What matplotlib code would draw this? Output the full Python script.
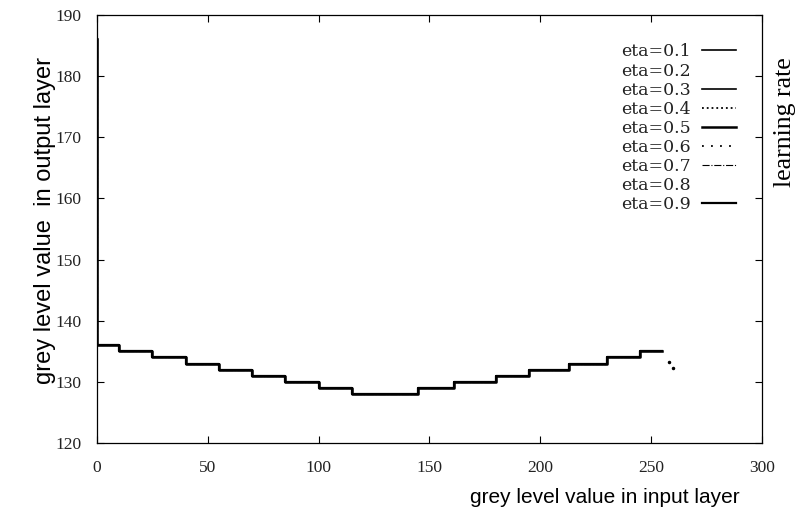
import matplotlib.pyplot as plt

# grey level staircase (x = input grey level, y = output grey level)
grey_in = [0, 0, 10, 25, 40, 55, 70, 85, 100, 115, 145, 161, 180, 195, 213, 230, 245, 255]
grey_out = [186, 136, 135, 134, 133, 132, 131, 130, 129, 128, 129, 130, 131, 132, 133, 134, 135, 135]

# a couple of stray points just past the end of the curve
tail_x = [258, 260]
tail_y = [133.3, 132.2]

etas = ["0.1", "0.2", "0.3", "0.4", "0.5", "0.6", "0.7", "0.8", "0.9"]
styles = ["-", "none", "-", ":", "-", (0, (1, 4)), "-.", "none", "-"]
widths = [1.2, 1.0, 1.2, 1.3, 1.8, 1.3, 0.8, 1.0, 1.6]

serif = ["Liberation Serif", "DejaVu Serif"]
sans = ["Liberation Sans", "DejaVu Sans"]

fig = plt.figure(figsize=(8.02, 5.19), dpi=100)
ax = fig.add_axes([0.121, 0.1464, 0.829, 0.8247])

for eta, ls, lw in zip(etas, styles, widths):
    ax.step(grey_in, grey_out, where="post", color="black", linestyle=ls,
            linewidth=lw, label="eta=" + eta)
ax.plot(tail_x, tail_y, "o", color="black", markersize=1.5)

ax.set_xlim(0, 300)
ax.set_ylim(120, 190)
ax.set_xticks(range(0, 301, 50))
ax.set_yticks(range(120, 191, 10))
ax.tick_params(direction="in", top=True, right=True, length=5, width=0.8,
               labelsize=12.5)
ax.tick_params(axis="y", pad=11)
ax.tick_params(axis="x", pad=12)
for lab in ax.get_xticklabels() + ax.get_yticklabels():
    lab.set_family(serif)
    lab.set_color("#222222")
for sp in ax.spines.values():
    sp.set_linewidth(0.9)

leg = ax.legend(loc="upper right", bbox_to_anchor=(0.985, 0.97), frameon=False,
                markerfirst=False, handlelength=2.0, handletextpad=0.6,
                labelspacing=0.12,
                prop={"family": ["DejaVu Serif"], "size": 12.5})
for t in leg.get_texts():
    t.set_color("#222222")

fig.text(0.056, 0.576, "grey level value  in output layer", rotation=90,
         ha="center", va="center", family=sans, fontsize=17)
fig.text(0.754, 0.042, "grey level value in input layer", ha="center",
         va="center", family=sans, fontsize=15)
fig.text(0.979, 0.765, "learning rate", rotation=90, ha="center", va="center",
         family=serif, fontsize=18.5)

fig.savefig("out.png", dpi=100)
